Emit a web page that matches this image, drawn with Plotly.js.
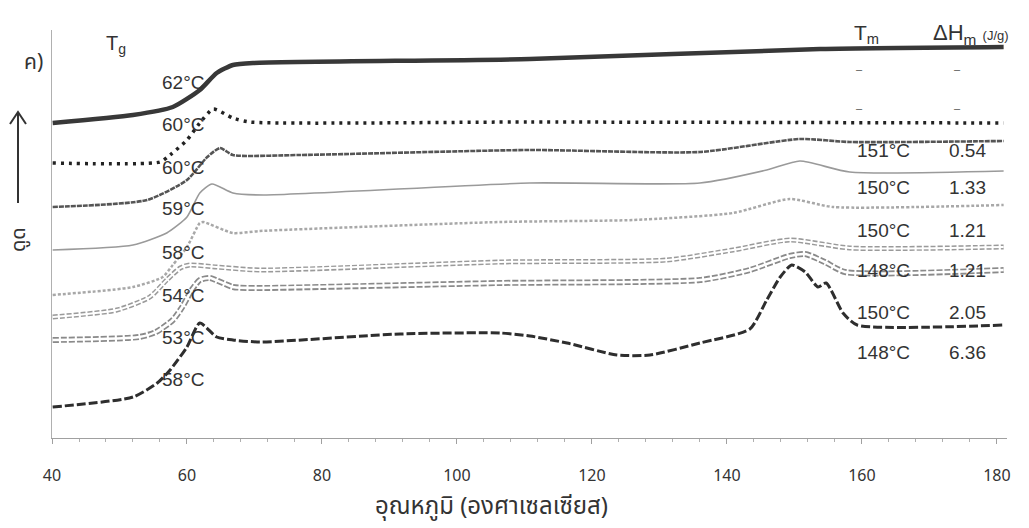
<!DOCTYPE html>
<html>
<head>
<meta charset="utf-8">
<script src="https://cdn.plot.ly/plotly-3.0.1.min.js"></script>
<style>
  html, body { margin: 0; padding: 0; background: #ffffff; }
  #chart { width: 1029px; height: 528px; }
</style>
</head>
<body>
<div id="chart"></div>
<script>
// ---- Data (temperature in °C, heat flow in arbitrary units, endo up) ----
const xA = [40.1, 52.0, 57.9, 61.9, 64.4, 66.8, 69.8, 110.8, 153.8, 181];
const yA = [31.5, 32.3, 33.1, 34.8, 36.5, 37.3, 37.5, 37.9, 38.9, 39.1];

const xB = [40.1, 56.0, 57.5, 60.0, 61.9, 63.9, 66.8, 69.3, 110.8, 181];
const yB = [27.5, 27.6, 28.3, 29.8, 31.5, 32.9, 32.0, 31.6, 31.6, 31.5];

const xC = [40.1, 54.1, 60.0, 63.0, 64.9, 66.8, 76.7, 110.8, 136.0, 150.8, 158.2, 181];
const yC = [23.1, 23.8, 25.8, 28.1, 29.0, 28.3, 28.3, 28.8, 28.6, 29.9, 29.6, 29.7];

const xD = [40.1, 52.0, 57.0, 60.0, 61.9, 63.7, 66.8, 71.3, 110.8, 136.0, 145.9, 150.8, 158.2, 181];
const yD = [18.8, 19.3, 20.5, 22.1, 24.5, 25.4, 24.5, 24.3, 25.5, 25.5, 26.8, 27.7, 26.6, 26.7];

const xE = [40.1, 52.0, 56.4, 57.9, 60.0, 61.9, 62.4, 66.8, 70.8, 106.4, 126.1, 140.9, 149.3, 155.7, 181];
const yE = [14.3, 15.1, 16.1, 17.3, 19.1, 21.5, 21.6, 20.5, 20.7, 21.6, 21.8, 22.5, 23.9, 23.1, 23.3];

const xF = [40.1, 49.6, 54.5, 57.0, 59.0, 60.4, 64.4, 70.8, 106.4, 131.1, 140.9, 149.3, 158.2, 181];
const yF = [12.1, 12.8, 14.1, 15.8, 17.0, 17.3, 17.1, 16.8, 17.6, 17.8, 18.8, 19.8, 19.0, 19.1];

const xG = [40.1, 52.9, 55.4, 57.9, 59.3, 60.7, 61.9, 63.4, 66.8, 70.8, 106.4, 136.0, 143.4, 149.3, 151.6, 154.5, 157.5, 181];
const yG = [9.8, 10.1, 10.6, 11.8, 13.1, 14.8, 15.8, 16.0, 15.1, 15.0, 15.5, 15.8, 16.8, 18.2, 18.4, 17.6, 16.6, 16.8];

const xH = [40.1, 52.0, 55.6, 57.5, 60.0, 61.9, 64.4, 66.8, 70.8, 91.6, 106.4, 110.8, 116.3, 123.7, 128.6, 136.0, 143.4, 145.9, 147.9, 149.6, 151.6, 153.5, 154.7, 157.2, 159.3, 181];
const yH = [3.1, 4.1, 5.5, 6.8, 9.1, 11.5, 10.1, 9.8, 9.6, 10.4, 10.5, 10.2, 9.5, 8.3, 8.3, 9.5, 10.9, 13.8, 16.1, 17.3, 16.6, 15.1, 15.5, 12.5, 11.3, 11.3];

// ---- Text labels ----
const tgLabels = ['62°C', '60°C', '60°C', '59°C', '58°C', '54°C', '53°C', '58°C'];
const tmLabels = ['–', '–', '151°C', '150°C', '150°C', '148°C', '150°C', '148°C'];
const dhLabels = ['–', '–', '0.54', '1.33', '1.21', '1.21', '2.05', '6.36'];
const xTitle = 'อุณหภูมิ (องศาเซลเซียส)';
const yTitle = 'ดูด';
const panelLabel = 'ค)';

// ---- Layout geometry (pixels) ----
const L = 52, R = 22, T = 30, B = 90, W = 1029, H = 528;
const plotW = W - L - R, plotH = H - T - B;
const px = x => (x - L) / plotW;
const py = y => (H - B - y) / plotH;

const tgRowY = [82, 125, 167, 208, 252, 295, 337, 379];
const tmRowY = [69, 108, 150, 188, 230, 270, 312, 352];

const smooth = 0.6;
function line(x, y, color, width, dash) {
  return { x: x, y: y, type: 'scatter', mode: 'lines', hoverinfo: 'skip',
    line: { color: color, width: width, dash: dash || 'solid', shape: 'spline', smoothing: smooth } };
}

const traces = [
  line(xH, yH, '#2e2e2e', 3, '9px,3px'),
  line(xG, yG, '#8a8a8a', 6, '6px,2px'),
  line(xG, yG, '#ffffff', 2.5),
  line(xF, yF, '#9a9a9a', 5, '5px,2px'),
  line(xF, yF, '#ffffff', 2),
  line(xE, yE, '#a8a8a8', 2.5, '3px,2px'),
  line(xD, yD, '#9a9a9a', 1.6),
  line(xC, yC, '#555555', 2.6, '5px,1px'),
  line(xB, yB, '#222222', 3.5, '3px,5px'),
  line(xA, yA, '#383838', 4.5)
];

const isDash = t => t === '–';
const annFont = { family: 'Liberation Sans, Arial, sans-serif', size: 19, color: '#333333' };
const dashFont = { family: 'Liberation Sans, Arial, sans-serif', size: 11, color: '#555555' };
const annotations = [];
tgLabels.forEach((t, i) => annotations.push({
  xref: 'paper', yref: 'paper', x: px(183), y: py(tgRowY[i]), text: t,
  showarrow: false, xanchor: 'center', yanchor: 'middle', font: annFont
}));
tmLabels.forEach((t, i) => annotations.push({
  xref: 'paper', yref: 'paper', x: isDash(t) ? px(859) : px(855), y: py(tmRowY[i]), text: t,
  showarrow: false, xanchor: isDash(t) ? 'center' : 'left', yanchor: 'middle', font: isDash(t) ? dashFont : annFont
}));
dhLabels.forEach((t, i) => annotations.push({
  xref: 'paper', yref: 'paper', x: isDash(t) ? px(957) : px(947), y: py(tmRowY[i]), text: t,
  showarrow: false, xanchor: isDash(t) ? 'center' : 'left', yanchor: 'middle', font: isDash(t) ? dashFont : annFont
}));
annotations.push(
  { xref: 'paper', yref: 'paper', x: px(852), y: py(34), text: 'T<sub>m</sub>', showarrow: false,
    xanchor: 'left', yanchor: 'middle', font: { family: 'Liberation Sans, Arial, sans-serif', size: 21, color: '#333' } },
  { xref: 'paper', yref: 'paper', x: px(931), y: py(34), text: 'ΔH<sub>m</sub> <span style="font-size:13px">(J/g)</span>', showarrow: false,
    xanchor: 'left', yanchor: 'middle', font: { family: 'Liberation Sans, Arial, sans-serif', size: 22, color: '#333' } },
  { xref: 'paper', yref: 'paper', x: px(104), y: py(44), text: 'T<sub>g</sub>', showarrow: false,
    xanchor: 'left', yanchor: 'middle', font: { family: 'Liberation Sans, Arial, sans-serif', size: 20, color: '#333' } },
  { xref: 'paper', yref: 'paper', x: px(33), y: py(62), text: panelLabel, showarrow: false,
    xanchor: 'center', yanchor: 'middle', font: { family: 'Noto Sans Thai, Loma, Garuda, Noto Sans, sans-serif', size: 21, color: '#333' } },
  { xref: 'paper', yref: 'paper', x: px(19), y: py(240), text: yTitle, textangle: -90, showarrow: false,
    xanchor: 'center', yanchor: 'middle', font: { family: 'Noto Sans Thai, Loma, Garuda, Noto Sans, sans-serif', size: 20, color: '#333' } },
  { xref: 'paper', yref: 'paper', x: px(491), y: py(507), text: xTitle, showarrow: false,
    xanchor: 'center', yanchor: 'middle', font: { family: 'Noto Sans Thai, Loma, Garuda, Noto Sans, sans-serif', size: 24, color: '#333' } }
);

// Arrow ("endothermic up") drawn as shapes in pixel-derived paper coordinates
const shapes = [
  { type: 'line', xref: 'paper', yref: 'paper', x0: px(18), x1: px(18), y0: py(203), y1: py(113),
    line: { color: '#333', width: 2 } },
  { type: 'path', xref: 'paper', yref: 'paper',
    path: 'M ' + px(10) + ' ' + py(124) + ' L ' + px(18) + ' ' + py(112) + ' L ' + px(26) + ' ' + py(124),
    line: { color: '#333', width: 2 } }
];

const layout = {
  width: W, height: H,
  margin: { l: L, r: R, t: T, b: B, pad: 0 },
  paper_bgcolor: '#ffffff', plot_bgcolor: '#ffffff',
  showlegend: false,
  xaxis: {
    range: [40, 181.5], tick0: 40, dtick: 20, showgrid: false, zeroline: false,
    showline: true, linecolor: '#a0a0a0', linewidth: 1,
    ticks: 'outside', ticklen: 5, tickcolor: '#a0a0a0', tickwidth: 1,
    minor: { tick0: 40, dtick: 4, ticks: 'outside', ticklen: 3, tickcolor: '#b0b0b0', showgrid: false },
    ticklabelstandoff: 18,
    tickfont: { family: 'Noto Sans, sans-serif', size: 16, color: '#333' }
  },
  yaxis: {
    range: [0, 40.8], showgrid: false, zeroline: false, showticklabels: false,
    showline: true, linecolor: '#b0b0b0', linewidth: 1, ticks: ''
  },
  annotations: annotations,
  shapes: shapes
};

Plotly.newPlot('chart', traces, layout, { staticPlot: true, displayModeBar: false });
</script>
</body>
</html>
